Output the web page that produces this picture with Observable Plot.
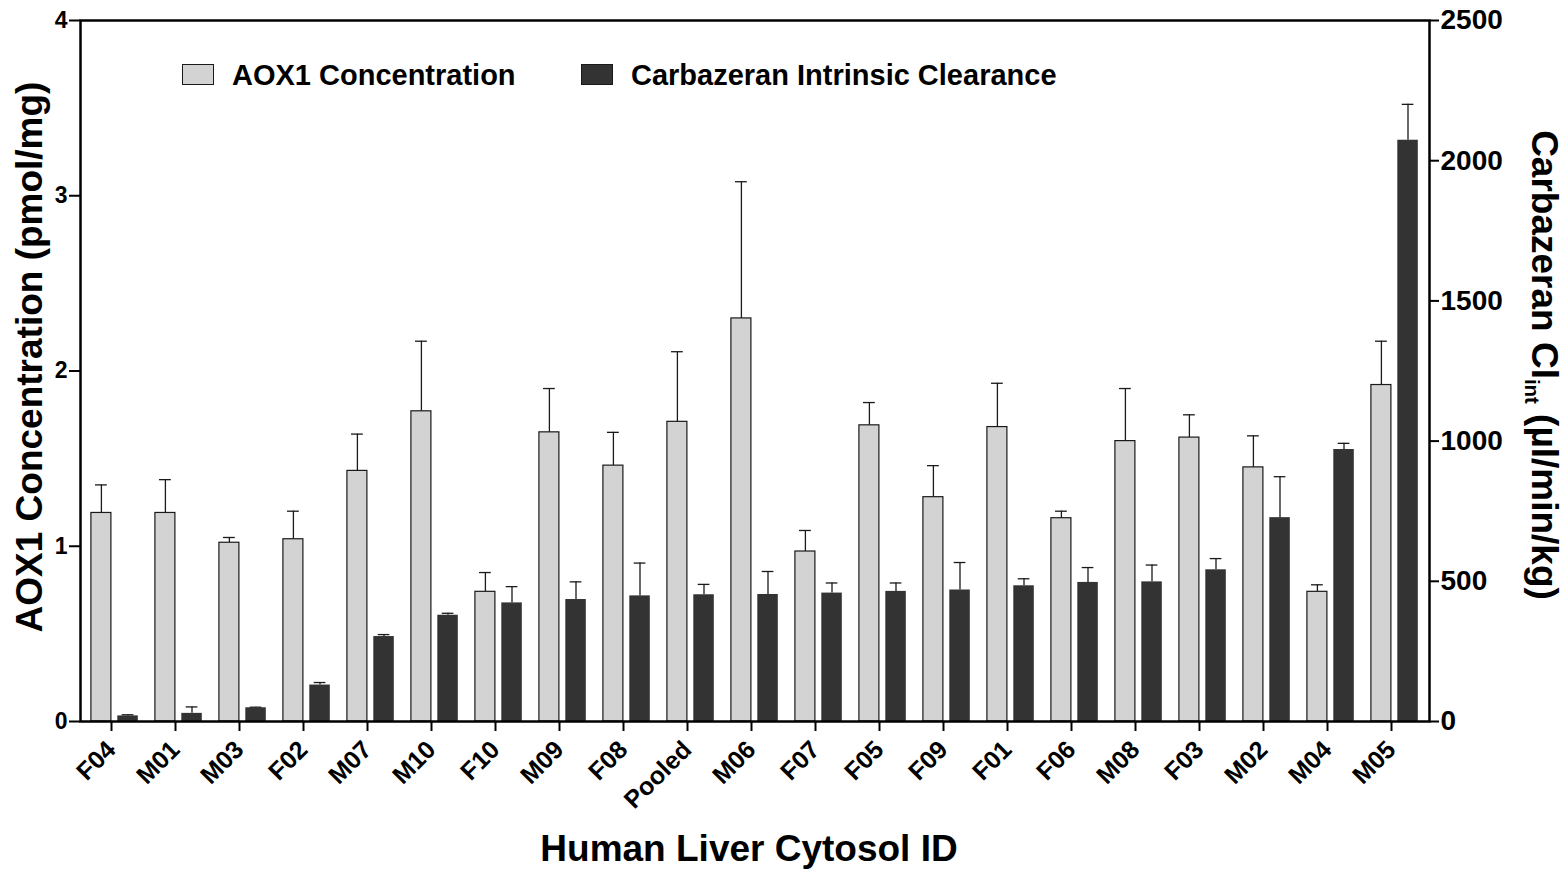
<!DOCTYPE html>
<html>
<head>
<meta charset="utf-8">
<script src="https://cdn.jsdelivr.net/npm/d3@7"></script>
<script src="https://cdn.jsdelivr.net/npm/@observablehq/plot@0.6"></script>
<style>
html,body{margin:0;padding:0;background:#fff;}
#wrap{position:relative;width:1564px;height:882px;font-family:"Liberation Sans",Arial,sans-serif;font-weight:bold;color:#000;overflow:hidden;}
#wrap svg{position:absolute;left:0;top:0;}
.t{position:absolute;white-space:nowrap;line-height:1;}
.sw{position:absolute;box-sizing:border-box;}
sub{font-size:0.55em;vertical-align:baseline;position:relative;top:0.33em;line-height:0;}
</style>
</head>
<body>
<div id="wrap"></div>
<script>
const ids = ["F04","M01","M03","F02","M07","M10","F10","M09","F08","Pooled","M06","F07","F05","F09","F01","F06","M08","F03","M02","M04","M05"];
const aox = [1.19,1.19,1.02,1.04,1.43,1.77,0.74,1.65,1.46,1.71,2.30,0.97,1.69,1.28,1.68,1.16,1.60,1.62,1.45,0.74,1.92];
const aoxSd = [0.16,0.19,0.03,0.16,0.21,0.40,0.11,0.25,0.19,0.40,0.78,0.12,0.13,0.18,0.25,0.04,0.30,0.13,0.18,0.04,0.25];
const clint = [20,29,49,130,303,379,423,435,448,452,453,458,464,469,484,496,498,541,727,970,2073];
const clintSd = [4,23,2,9,7,7,58,63,117,37,82,36,30,98,25,53,60,40,146,22,128];
const leftTicks = [0,1,2,3,4];
const rightTicks = [0,500,1000,1500,2000,2500];
const seriesNames = ["AOX1 Concentration","Carbazeran Intrinsic Clearance"];
const seriesColors = ["#d3d3d3","#333333"];

const data = ids.map((id,i)=>({id, aox:aox[i], aoxSd:aoxSd[i], cl:clint[i], clSd:clintSd[i]}));
const k = 2500/4;
const ink = "#1a1a1a";

const plot = Plot.plot({
  width:1564, height:882,
  marginLeft:80, marginRight:135, marginTop:20, marginBottom:161,
  style:{fontFamily:'"Liberation Sans",Arial,sans-serif', fontWeight:"bold", background:"transparent", color:"#000"},
  x:{type:"band", domain:ids, padding:0, label:null},
  y:{domain:[0,4], label:null},
  marks:[
    Plot.ruleX(data,{x:"id", y1:"aox", y2:d=>d.aox+d.aoxSd, dx:-14.1, stroke:ink, strokeWidth:1.3}),
    Plot.tickY(data,{x:"id", y:d=>d.aox+d.aoxSd, insetLeft:12, insetRight:40.2, stroke:ink, strokeWidth:1.3}),
    Plot.ruleX(data,{x:"id", y1:d=>d.cl/k, y2:d=>(d.cl+d.clSd)/k, dx:12.5, stroke:ink, strokeWidth:1.3}),
    Plot.tickY(data,{x:"id", y:d=>(d.cl+d.clSd)/k, insetLeft:38.7, insetRight:13.6, stroke:ink, strokeWidth:1.3}),
    Plot.barY(data,{x:"id", y:"aox", fill:seriesColors[0], stroke:ink, strokeWidth:1.2, insetLeft:7.9, insetRight:36.1}),
    Plot.barY(data,{x:"id", y:d=>d.cl/k, fill:seriesColors[1], insetLeft:34.3, insetRight:9.2}),
    Plot.axisX({tickRotate:-45, tickSize:10, tickPadding:14, dx:-4, fontSize:25, strokeWidth:2, label:null}),
    Plot.axisY({anchor:"left", ticks:leftTicks, tickFormat:d=>String(d), tickSize:11, tickPadding:2, fontSize:23, strokeWidth:2, label:null}),
    Plot.axisY({anchor:"right", ticks:rightTicks.map(v=>v/k), tickFormat:d=>String(Math.round(d*k)), tickSize:9, tickPadding:2, fontSize:28, strokeWidth:2, label:null}),
    Plot.frame({stroke:"#000", strokeWidth:2.5})
  ]
});
const wrap = document.getElementById("wrap");
wrap.appendChild(plot);

function addText(html, x, y, size, rot){
  const d = document.createElement("div");
  d.className = "t";
  d.innerHTML = html;
  d.style.left = x+"px"; d.style.top = y+"px"; d.style.fontSize = size+"px";
  d.style.transform = `translate(-50%,-50%) rotate(${rot}deg)`;
  wrap.appendChild(d);
}
addText("AOX1 Concentration (pmol/mg)", 29, 357, 37, -90);
addText("Carbazeran Cl<sub>int</sub> (µl/min/kg)", 1544, 365, 37, 90);
addText("Human Liver Cytosol ID", 749, 848, 37, 0);

const legendItems = [
  {sx:182, tx:232},
  {sx:581, tx:631}
];
legendItems.forEach((it,i)=>{
  const s = document.createElement("div");
  s.className = "sw";
  s.style.left = it.sx+"px"; s.style.top = "64px"; s.style.width = "32px"; s.style.height = "21px";
  s.style.background = seriesColors[i];
  s.style.border = "1.2px solid " + ink;
  wrap.appendChild(s);
  const t = document.createElement("div");
  t.className = "t";
  t.textContent = seriesNames[i];
  t.style.left = it.tx+"px"; t.style.top = "74.5px"; t.style.fontSize = "29px";
  t.style.transform = "translate(0,-50%)";
  wrap.appendChild(t);
});
</script>
</body>
</html>
